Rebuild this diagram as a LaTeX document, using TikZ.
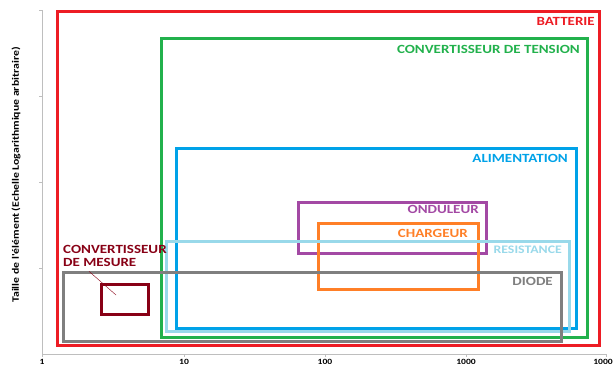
\documentclass[tikz,border=0pt]{standalone}
\usepackage{fontspec}
\setmainfont{Carlito}
\newfontfamily\widefont[FakeStretch=1.2]{Carlito}
\definecolor{batred}{RGB}{237,28,36}
\definecolor{convgreen}{RGB}{34,177,76}
\definecolor{alimblue}{RGB}{0,162,232}
\definecolor{resblue}{RGB}{153,217,234}
\definecolor{diodegray}{RGB}{127,127,127}
\definecolor{ondpurple}{RGB}{163,73,164}
\definecolor{chargorange}{RGB}{255,127,39}
\definecolor{mesred}{RGB}{136,0,21}
\definecolor{axisgray}{RGB}{190,190,190}

\begin{document}
\begin{tikzpicture}[x=1pt,y=-1pt,
  zone/.style={line width=3pt},
  tag/.style={font=\widefont\bfseries\fontsize{12.5}{13}\selectfont,anchor=east,inner sep=0pt},
  ticklabel/.style={font=\widefont\bfseries\fontsize{8}{9}\selectfont,inner sep=0pt}]
  \useasboundingbox (0,0) rectangle (614,367);
  \draw[axisgray] (42,10) -- (42,354) -- (606,354);
  \foreach \y in {10,96,182,268} {
    \draw[axisgray] (39,\y) -- (42,\y);
  }
  \foreach \x/\v in {42/1,184/10,325/100,466/1000} {
    \draw[axisgray] (\x,354) -- (\x,357);
    \node[ticklabel] (tick\v) at (\x,361.5) {\v};
  }
  \draw[axisgray] (606,354) -- (606,357);
  \node[ticklabel,anchor=east] (tickend) at (613,361.5) {1000};
  \node[font=\widefont\bfseries\fontsize{9.8}{11}\selectfont,rotate=90] (ylabel) at (16,175)
    {Taille de l'élément (Echelle Logarithmique arbitraire)};

  \draw[zone,batred] (57,11) rectangle (599,345);
  \draw[zone,convgreen] (161,38) rectangle (587,337);
  \draw[zone,alimblue] (176,148) rectangle (576,328);
  \draw[zone,ondpurple] (298,202) rectangle (486,253);
  \draw[zone,chargorange] (318,223) rectangle (478,289);
  \draw[zone,resblue] (166,241) rectangle (569,331);
  \draw[zone,diodegray] (63,272) rectangle (561,341);
  \draw[zone,mesred] (101,284) rectangle (148,314);

  \node[tag,batred] (batterie) at (595,21) {BATTERIE};
  \node[tag,convgreen] (tension) at (580,49) {CONVERTISSEUR DE TENSION};
  \node[tag,alimblue] (alim) at (568,158) {ALIMENTATION};
  \node[tag,ondpurple] (onduleur) at (479,209) {ONDULEUR};
  \node[tag,chargorange] (chargeur) at (468,233) {CHARGEUR};
  \node[tag,resblue,font=\widefont\bfseries\fontsize{11.5}{13}\selectfont] (resistance) at (562,250) {RESISTANCE};
  \node[tag,diodegray] (diode) at (553,281) {DIODE};
  \node[tag,mesred,anchor=west,align=left] (mesure) at (63,255.5) {CONVERTISSEUR\\DE MESURE};
  \coordinate (mesurepin) at (116,295);
  \draw[mesred,thin] ([xshift=26pt,yshift=-5pt]mesure.south west) -- (mesurepin);
\end{tikzpicture}
\end{document}
